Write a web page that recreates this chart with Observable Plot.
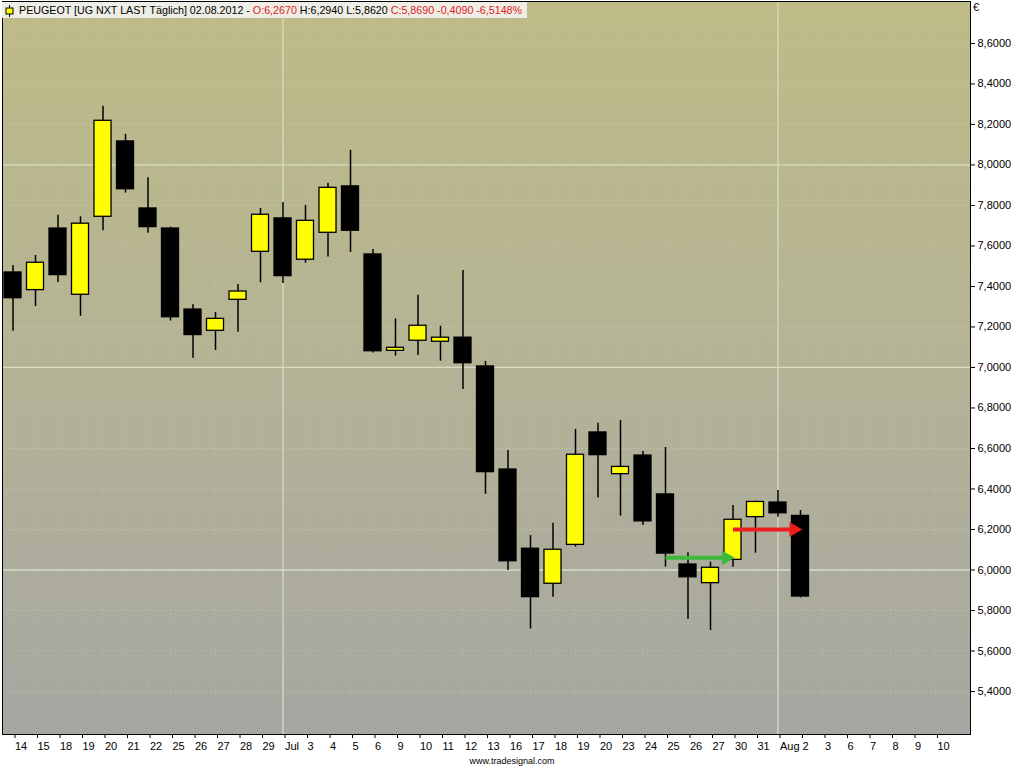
<!DOCTYPE html>
<html>
<head>
<meta charset="utf-8">
<script src="https://cdn.jsdelivr.net/npm/d3@7"></script>
<script src="https://cdn.jsdelivr.net/npm/@observablehq/plot@0.6"></script>
<style>
  body { margin: 0; background: #fff; font-family: "Liberation Sans", Arial, sans-serif; }
  #wrap { position: relative; width: 1024px; height: 768px; overflow: hidden; }
  #title { position: absolute; left: 2px; top: 2px; height: 16px; width: 525px; background: #efeee6;
           font-size: 10.7px; line-height: 16px; white-space: nowrap; color: #000; box-sizing: border-box; padding-left: 3px; }
  #title .r { color: #e0201c; }
  #title svg { vertical-align: -3px; margin-right: 5px; }
  #euro { position: absolute; left: 973px; top: 1px; font-size: 11px; }
  #credit { position: absolute; left: 0; width: 1024px; text-align: center; top: 756px; font-size: 9px; color: #000; }
</style>
</head>
<body>
<div id="wrap">
  <div id="chart"></div>
  <div id="title"><svg width="9" height="12"><line x1="4.5" y1="0" x2="4.5" y2="12" stroke="#000"/><rect x="1" y="3" width="7" height="6" fill="#ffff00" stroke="#000"/></svg>PEUGEOT [UG NXT LAST Täglich] 02.08.2012 - <span class="r">O:6,2670</span> H:6,2940 L:5,8620 <span class="r">C:5,8690 -0,4090 -6,5148%</span></div>
  <div id="euro">€</div>
  <div id="credit">www.tradesignal.com</div>
</div>
<script>
// Axis slot labels (trading days + future days)
const days = ["14","15","18","19","20","21","22","25","26","27","28","29","Jul","3","4","5","6","9","10","11","12","13","16","17","18","19","20","23","24","25","26","27","30","31","Aug","2","3","6","7","8","9","10"];
// OHLC series (Jun 14 – Aug 2, 2012)
const open  = [7.469,7.382,7.686,7.359,7.744,8.116,7.785,7.686,7.286,7.181,7.334,7.571,7.736,7.532,7.665,7.894,7.558,7.082,7.132,7.127,7.147,7.005,6.496,6.105,5.932,6.124,6.679,6.473,6.565,6.373,6.027,5.935,6.050,6.261,6.333,6.267];
const high  = [7.504,7.553,7.751,7.744,8.290,8.151,7.937,7.693,7.310,7.272,7.410,7.785,7.815,7.800,7.909,8.072,7.583,7.240,7.356,7.204,7.479,7.030,6.590,6.170,6.231,6.694,6.725,6.738,6.585,6.605,6.085,6.039,6.319,6.340,6.393,6.294];
const low   = [7.179,7.301,7.420,7.253,7.675,7.861,7.663,7.229,7.046,7.084,7.174,7.418,7.415,7.515,7.545,7.568,7.071,7.056,7.059,7.031,6.891,6.374,5.998,5.708,5.866,6.113,6.355,6.266,6.220,6.014,5.757,5.701,6.014,6.083,6.260,5.862];
const close = [7.342,7.517,7.456,7.710,8.218,7.880,7.693,7.248,7.160,7.240,7.375,7.754,7.451,7.724,7.887,7.675,7.080,7.097,7.206,7.147,7.021,6.483,6.043,5.866,6.100,6.569,6.567,6.509,6.240,6.081,5.964,6.011,6.248,6.336,6.280,5.869];
// Y tick values
const yTicks = [5.4,5.6,5.8,6.0,6.2,6.4,6.6,6.8,7.0,7.2,7.4,7.6,7.8,8.0,8.2,8.4,8.6];
// Annotation arrows (slot index from/to, price level)
const arrowFrom  = [29, 32];
const arrowTo    = [32.1, 35.1];
const arrowLevel = [6.06, 6.20];
const arrowColor = ["#3cb83c", "#ee1c1c"];

const candles = open.map((o, i) => ({i, o, h: high[i], l: low[i], c: close[i]}));
const arrows = arrowFrom.map((f, k) => ({from: f, to: arrowTo[k], level: arrowLevel[k], color: arrowColor[k]}));
const slots = d3.range(days.length);
const monthIdx = slots.filter(i => isNaN(+days[i]));
const isInt = v => Math.abs(v - Math.round(v)) < 1e-9;

const chart = Plot.plot({
  width: 1024, height: 768,
  marginTop: 1, marginLeft: 2, marginRight: 54, marginBottom: 34,
  style: {background: "transparent", fontFamily: "Liberation Sans, Arial, sans-serif", fontSize: "11px", color: "#000"},
  x: {type: "linear", domain: [-0.467, 42.556]},
  y: {domain: [5.1877, 8.807]},
  color: {type: "identity"},
  marks: [
    Plot.frame({fill: "url(#bgGrad)"}),
    Plot.ruleX(slots, {stroke: "#e2e2d0", strokeOpacity: 0.3, strokeDasharray: "1,3"}),
    Plot.ruleY(yTicks.filter(v => !isInt(v)), {stroke: "#e4e4d2", strokeOpacity: 0.55, strokeDasharray: "1,3"}),
    Plot.ruleY(yTicks.filter(isInt), {stroke: "#d6dec6", strokeWidth: 1.3}),
    Plot.ruleX(monthIdx, {stroke: "#d8dccc", strokeWidth: 1.2}),
    Plot.ruleX(candles, {x: "i", y1: "l", y2: "h", stroke: "#000", strokeWidth: 1.5}),
    Plot.rect(candles, {x1: d => d.i - 0.378, x2: d => d.i + 0.378, y1: "o", y2: "c",
      fill: d => d.c >= d.o ? "#ffff00" : "#000000", stroke: "#000", strokeWidth: 1.3}),
    Plot.link(arrows, {x1: "from", x2: d => d.to - 0.4, y1: "level", y2: "level", stroke: "color", strokeWidth: 4}),
    Plot.dot(arrows, {x: "to", y: "level", symbol: "triangle", rotate: 90, r: 5.5, fill: "color", dx: -9}),
    Plot.frame({stroke: "#000"}),
    Plot.axisY(yTicks, {anchor: "right", tickSize: 4, tickPadding: 3, tickFormat: d => d.toFixed(4).replace(".", ",")}),
    Plot.axisX(slots, {anchor: "bottom", tickSize: 4, tickPadding: 4, tickFormat: i => days[i], textAnchor: "start", dx: 2})
  ]
});

const svg = d3.select(chart);
const grad = svg.insert("defs", ":first-child").append("linearGradient")
  .attr("id", "bgGrad").attr("x1", 0).attr("y1", 0).attr("x2", 0).attr("y2", 1);
grad.append("stop").attr("offset", "0%").attr("stop-color", "#bebb86");
grad.append("stop").attr("offset", "50%").attr("stop-color", "#b4b396");
grad.append("stop").attr("offset", "100%").attr("stop-color", "#a6a6a2");

document.getElementById("chart").appendChild(chart);
</script>
</body>
</html>
